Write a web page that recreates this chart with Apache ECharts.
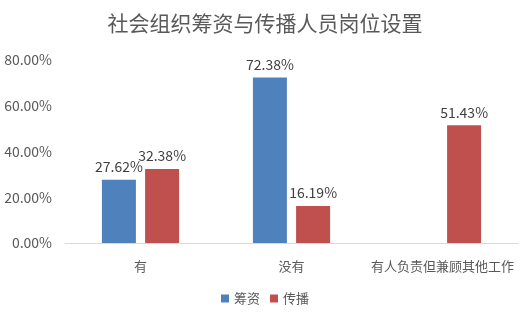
<!DOCTYPE html>
<html><head><meta charset="utf-8">
<script src="https://cdn.jsdelivr.net/npm/echarts@6/dist/echarts.min.js"></script>
<style>html,body{margin:0;padding:0;background:#fff}#c{width:530px;height:316px}</style>
</head><body><div id="c"></div>
<script>
var categories = ['有', '没有', '有人负责但兼顾其他工作'];
var fundraising = [27.62, 72.38, null];
var communication = [32.38, 16.19, 51.43];
var seriesNames = ['筹资', '传播'];
var yTicks = [0, 20, 40, 60, 80];

var font = '"Microsoft YaHei","Noto Sans CJK SC",sans-serif';
var chart = echarts.init(document.getElementById('c'));
chart.setOption({
  animation: false,
  title: {text: '社会组织筹资与传播人员岗位设置', left: 'center', top: 8,
    textStyle: {fontSize: 21, fontWeight: 'normal', color: '#595959', fontFamily: font}},
  legend: {data: seriesNames, bottom: 6, left: 'center', itemWidth: 8, itemHeight: 8, itemGap: 10,
    icon: 'rect', textStyle: {fontSize: 13, color: '#595959', fontFamily: font}},
  grid: {left: 65, right: 12, top: 60, bottom: 73},
  xAxis: {type: 'category', data: categories,
    axisLine: {lineStyle: {color: '#d9d9d9'}}, axisTick: {show: false},
    axisLabel: {interval: 0, fontSize: 13, color: '#595959', margin: 17, fontFamily: font}},
  yAxis: {type: 'value', min: yTicks[0], max: yTicks[yTicks.length-1], interval: 20,
    splitLine: {show: false}, axisLine: {show: false}, axisTick: {show: false},
    axisLabel: {fontSize: 14, color: '#595959', margin: 13, fontFamily: font,
      formatter: function(v){return v.toFixed(2)+'%';}}},
  series: [
    {name: seriesNames[0], type: 'bar', data: fundraising, barWidth: 34, barGap: '27%',
     itemStyle: {color: '#4F81BD'},
     label: {show: true, position: 'top', distance: 6, fontSize: 14, color: '#404040', fontFamily: font,
       formatter: function(p){return p.value.toFixed(2)+'%';}}},
    {name: seriesNames[1], type: 'bar', data: communication, barWidth: 34,
     itemStyle: {color: '#C0504D'},
     label: {show: true, position: 'top', distance: 6, fontSize: 14, color: '#404040', fontFamily: font,
       formatter: function(p){return p.value.toFixed(2)+'%';}}}
  ]
});
</script></body></html>
